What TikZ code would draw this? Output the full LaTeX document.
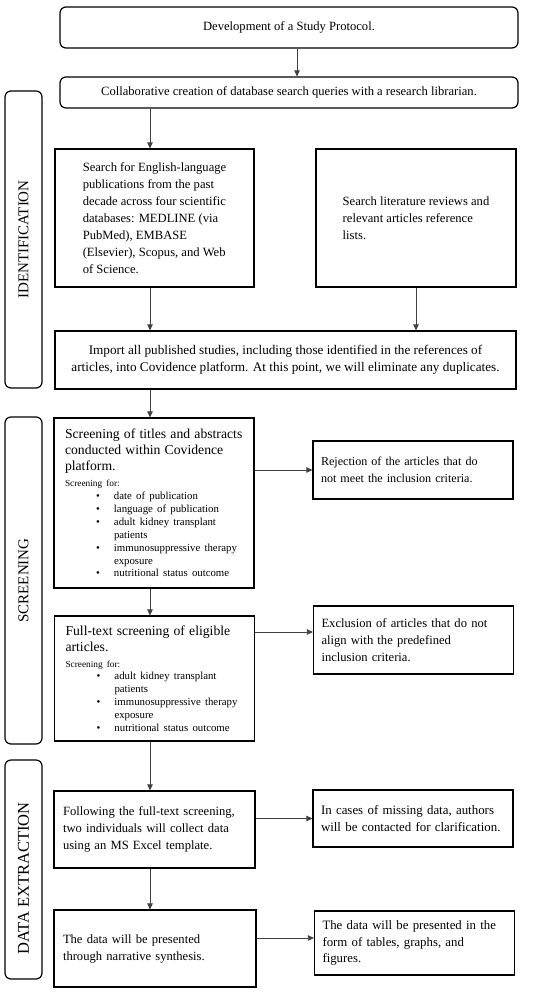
\documentclass[tikz,border=0pt]{standalone}
\usepackage{fontspec}
\setmainfont{Liberation Serif}
\usetikzlibrary{arrows.meta,positioning}

\newcommand{\mainfont}{\fontsize{12.6}{17}\selectfont}
\newcommand{\bigmain}{\fontsize{13.7}{16}\selectfont}
\newcommand{\critem}[1]{\par\fontsize{10.8}{12.9}\selectfont\hangindent=49pt\hangafter=1\noindent\hspace*{31pt}\makebox[18pt][l]{\textbullet}#1}

\begin{document}
\begin{tikzpicture}[x=1pt, y=-1pt, >={Triangle[length=6pt,width=5.5pt]}]
    \tikzstyle{block} = [rectangle, draw, line width=1.2pt, inner sep=0pt, font=\mainfont]
    \tikzstyle{rbox} = [block, text width=184pt, inner xsep=8pt, align=left]
    \tikzstyle{stage} = [block, rounded corners=6pt, rotate=90, font=\fontsize{15}{16}\selectfont]
    \tikzstyle{arrow} = [->, draw=black!75, line width=0.7pt]

    \fill[white] (0,0) rectangle (550,994);
    \useasboundingbox (0,0) rectangle (550,994);

    % stage labels
    \node[stage, minimum width=297pt, minimum height=37pt] (ident) at (23.5,239.5) {IDENTIFICATION};
    \node[stage, minimum width=327pt, minimum height=37pt] (screen) at (23.5,580.5) {SCREENING};
    \node[stage, minimum width=219pt, minimum height=37pt, font=\fontsize{16.5}{17}\selectfont] (extract) at (23.5,869.5) {\hspace*{-18pt}DATA EXTRACTION};

    % identification
    \node[block, rounded corners=6pt, minimum width=458pt, minimum height=41pt] (proto) at (289,27.5) {Development of a Study Protocol.};
    \node[block, rounded corners=6pt, minimum width=458pt, minimum height=31pt] (lib) at (289,92.5) {Collaborative creation of database search queries with a research librarian.};
    \node[block, minimum width=199pt, minimum height=138pt, align=left] (search) at (154.5,218)
        {Search for English-language\\publications from the past\\decade across four scientific\\databases: MEDLINE (via\\PubMed), EMBASE\\(Elsevier), Scopus, and Web\\of Science.};
    \node[block, minimum width=200pt, minimum height=138pt, align=left] (refs) at (416,218)
        {Search literature reviews and\\relevant articles reference\\lists.};
    \node[block, minimum width=461pt, minimum height=58pt, align=center, font=\fontsize{13.2}{17}\selectfont] (import) at (285.5,360)
        {Import all published studies, including those identified in the references of\\articles, into Covidence platform. At this point, we will eliminate any duplicates.};

    % screening
    \node[block, minimum height=170pt, text width=184pt, inner xsep=8pt, align=left] (scr1) at (154,503)
        {\leftskip=3pt\bigmain Screening of titles and abstracts\\conducted within Covidence\\platform.\par
         {\fontsize{9.3}{10.5}\selectfont Screening for:}
         \critem{date of publication}
         \critem{language of publication}
         \critem{adult kidney transplant\newline patients}
         \critem{immunosuppressive therapy\newline exposure}
         \critem{nutritional status outcome}\par};
    \node[rbox, minimum height=58pt, font=\fontsize{12.1}{17}\selectfont] (reject) at (413,470)
        {Rejection of the articles that do\\not meet the inclusion criteria.};
    \node[block, minimum height=125pt, text width=184pt, inner xsep=8pt, align=left] (scr2) at (154.5,678.5)
        {\leftskip=3pt\bigmain Full-text screening of eligible\\articles.\par
         {\fontsize{9.3}{10.5}\selectfont Screening for:}
         \critem{adult kidney transplant\newline patients}
         \critem{immunosuppressive therapy\newline exposure}
         \critem{nutritional status outcome}\par};
    \node[rbox, minimum height=68pt] (exclude) at (413.5,640)
        {Exclusion of articles that do not\\align with the predefined\\inclusion criteria.};

    % data extraction
    \node[block, minimum height=77pt, text width=183pt, inner xsep=9pt, align=left] (collect) at (154.5,829.5)
        {Following the full-text screening,\\two individuals will collect data\\using an MS Excel template.};
    \node[rbox, minimum height=57pt, font=\fontsize{12.9}{17}\selectfont] (missing) at (413,818.5)
        {In cases of missing data, authors\\will be contacted for clarification.};
    \node[block, minimum height=77pt, text width=184pt, inner xsep=9pt, align=left] (narrative) at (155,948.5)
        {The data will be presented\\through narrative synthesis.};
    \node[rbox, minimum height=64pt, font=\fontsize{12.8}{16.5}\selectfont] (tables) at (414.5,943)
        {The data will be presented in the\\form of tables, graphs, and\\figures.};

    % arrows
    \coordinate (leftcol) at (150,0);
    \coordinate (protoout) at ([xshift=8pt]proto.south);
    \coordinate (exin) at ([yshift=8pt]exclude.west);
    \coordinate (tabin) at ([yshift=5pt]tables.west);

    \draw[arrow] (protoout) -- (protoout |- lib.north);
    \draw[arrow] (lib.south -| leftcol) -- (search.north -| leftcol);
    \draw[arrow] (search.south -| leftcol) -- (import.north -| leftcol);
    \draw[arrow] (refs.south) -- (refs.south |- import.north);
    \draw[arrow] (import.south -| leftcol) -- (scr1.north -| leftcol);
    \draw[arrow] (scr1.east |- reject.west) -- (reject.west);
    \draw[arrow] (scr1.south -| leftcol) -- (scr2.north -| leftcol);
    \draw[arrow] (scr2.east |- exin) -- (exin);
    \draw[arrow] (scr2.south -| leftcol) -- (collect.north -| leftcol);
    \draw[arrow] (collect.east |- missing.west) -- (missing.west);
    \draw[arrow] (collect.south -| leftcol) -- (narrative.north -| leftcol);
    \draw[arrow] (narrative.east |- tabin) -- (tabin);

\end{tikzpicture}
\end{document}
